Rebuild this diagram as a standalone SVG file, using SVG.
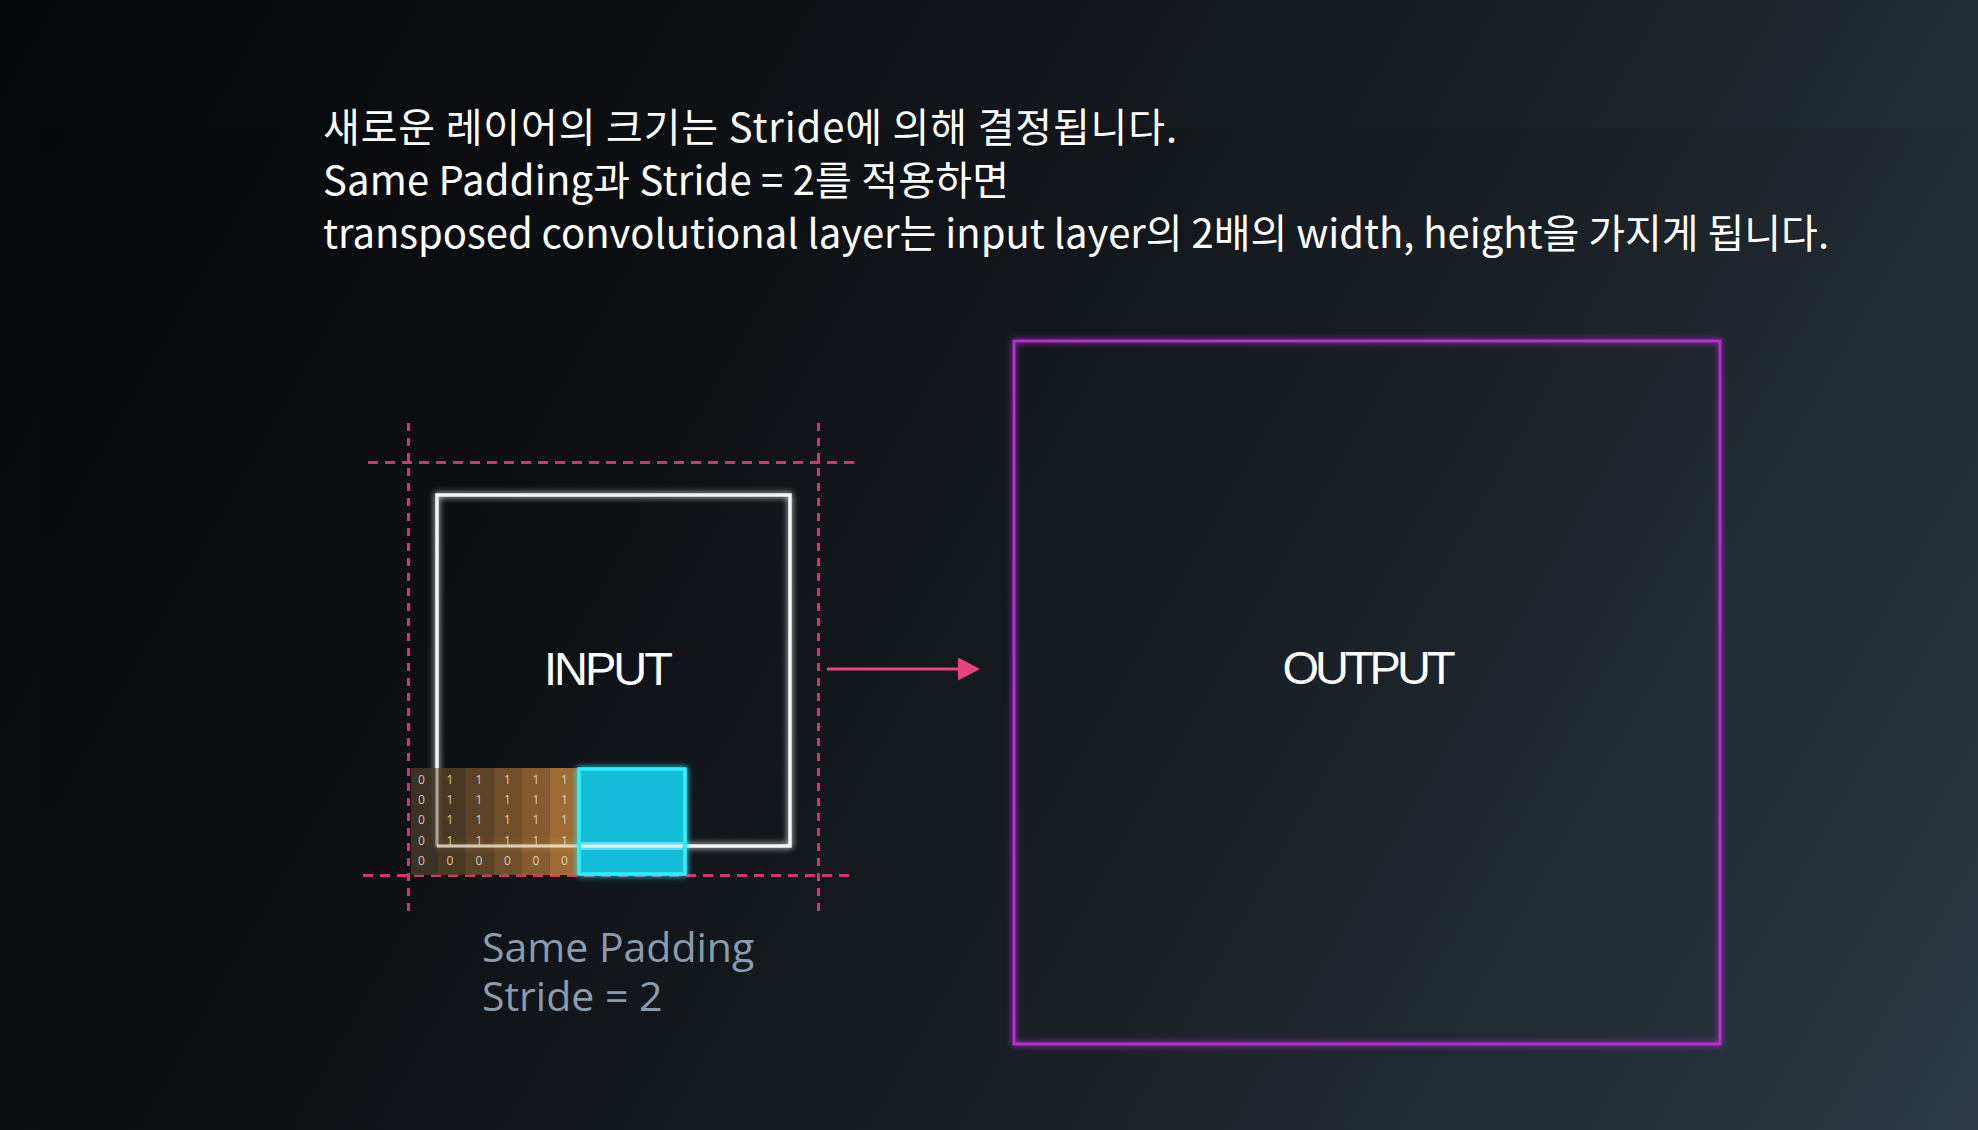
<svg xmlns="http://www.w3.org/2000/svg" width="1978" height="1130" viewBox="0 0 1978 1130">
<defs>
<linearGradient id="bg" x1="0" y1="0" x2="1978" y2="1130" gradientUnits="userSpaceOnUse">
<stop offset="0" stop-color="#060708"/>
<stop offset="0.35" stop-color="#0f1216"/>
<stop offset="0.65" stop-color="#1c2329"/>
<stop offset="1" stop-color="#303c47"/>
</linearGradient>
<filter id="glow" x="-20%" y="-20%" width="140%" height="140%">
<feGaussianBlur in="SourceGraphic" stdDeviation="3" result="b"/>
<feMerge><feMergeNode in="b"/><feMergeNode in="SourceGraphic"/></feMerge>
</filter>
<marker id="arrow" markerUnits="userSpaceOnUse" markerWidth="24" markerHeight="24" refX="0" refY="11.5" orient="auto">
<path d="M0,0 L22,11.5 L0,23 Z" fill="#e8437c"/>
</marker>
<style>
.title{font-family:"Noto Sans CJK KR","Noto Sans",sans-serif;font-size:40px;fill:#ffffff}
.dash{stroke:#d2356c;stroke-width:3;stroke-dasharray:10 7;fill:none}
.vdash{stroke:#d2356c;stroke-width:3;stroke-dasharray:8 7;fill:none}
.big{font-family:"Liberation Sans",Arial,sans-serif;font-size:47px;fill:#ffffff;text-anchor:middle}
.dig{font-family:"Open Sans","Noto Sans",sans-serif;font-size:12px;fill:#efe3cf;fill-opacity:0.85;text-anchor:middle}
.lbl{font-family:"Open Sans","Noto Sans",sans-serif;font-size:41px;fill:#8c9bab}
</style>
</defs>
<rect x="0" y="0" width="1978" height="1130" fill="url(#bg)"/>
<rect x="41" y="128" width="1937" height="1002" fill="#000000" fill-opacity="0.05"/>

<g id="title-text">
<text class="title" x="323" y="142" textLength="854" lengthAdjust="spacing">새로운 레이어의 크기는 Stride에 의해 결정됩니다.</text>
<text class="title" x="323" y="195" textLength="686" lengthAdjust="spacing">Same Padding과 Stride = 2를 적용하면</text>
<text class="title" x="323" y="248" textLength="1506" lengthAdjust="spacing">transposed convolutional layer는 input layer의 2배의 width, height을 가지게 됩니다.</text>
</g>

<g id="padding-guides">
<line class="dash" x1="368" y1="462.5" x2="860" y2="462.5"/>
<line class="dash" x1="363" y1="875.5" x2="855" y2="875.5"/>
<line class="vdash" x1="408.5" y1="423" x2="408.5" y2="911"/>
<line class="vdash" x1="818.5" y1="423" x2="818.5" y2="911"/>
</g>

<g id="node-input">
<rect x="437" y="495" width="353" height="351" fill="none" stroke="#f4f4f4" stroke-width="3.5" filter="url(#glow)"/>
<text class="big" x="607" y="685" letter-spacing="-3">INPUT</text>
</g>

<g id="padding-grid">
<rect x="411" y="768" width="27" height="107" fill="#45382a" fill-opacity="0.85"/>
<rect x="438" y="768" width="28" height="107" fill="#563f27" fill-opacity="0.85"/>
<rect x="466" y="768" width="28" height="107" fill="#6a4b2a" fill-opacity="0.85"/>
<rect x="494" y="768" width="28" height="107" fill="#80592e" fill-opacity="0.85"/>
<rect x="522" y="768" width="28" height="107" fill="#996834" fill-opacity="0.85"/>
<rect x="550" y="768" width="28" height="107" fill="#b67c3a" fill-opacity="0.85"/>
<g>
<text class="dig" x="421.5" y="784">0</text><text class="dig" x="450" y="784">1</text><text class="dig" x="479" y="784">1</text><text class="dig" x="507.5" y="784">1</text><text class="dig" x="536" y="784">1</text><text class="dig" x="564.5" y="784">1</text>
<text class="dig" x="421.5" y="804">0</text><text class="dig" x="450" y="804">1</text><text class="dig" x="479" y="804">1</text><text class="dig" x="507.5" y="804">1</text><text class="dig" x="536" y="804">1</text><text class="dig" x="564.5" y="804">1</text>
<text class="dig" x="421.5" y="824">0</text><text class="dig" x="450" y="824">1</text><text class="dig" x="479" y="824">1</text><text class="dig" x="507.5" y="824">1</text><text class="dig" x="536" y="824">1</text><text class="dig" x="564.5" y="824">1</text>
<text class="dig" x="421.5" y="845">0</text><text class="dig" x="450" y="845">1</text><text class="dig" x="479" y="845">1</text><text class="dig" x="507.5" y="845">1</text><text class="dig" x="536" y="845">1</text><text class="dig" x="564.5" y="845">1</text>
<text class="dig" x="421.5" y="865">0</text><text class="dig" x="450" y="865">0</text><text class="dig" x="479" y="865">0</text><text class="dig" x="507.5" y="865">0</text><text class="dig" x="536" y="865">0</text><text class="dig" x="564.5" y="865">0</text>
</g>
<line x1="437" y1="846" x2="578" y2="846" stroke="#f6ecd0" stroke-width="3" stroke-opacity="0.75"/>
<line x1="437" y1="768" x2="437" y2="846" stroke="#f6ecd0" stroke-width="3" stroke-opacity="0.5"/>
</g>

<g id="kernel">
<rect x="579" y="769" width="106" height="105" fill="#14bddb" stroke="#2cf2ff" stroke-width="3.5" filter="url(#glow)"/>
<rect x="581" y="842" width="102" height="8" fill="#7ff3ff" fill-opacity="0.6"/>
<rect x="581" y="844.5" width="102" height="3" fill="#f0ffff"/>
</g>

<g id="node-output">
<rect x="1014" y="341" width="706" height="703" fill="none" stroke="#b52ed0" stroke-width="3" filter="url(#glow)"/>
<text class="big" x="1367" y="684" letter-spacing="-4">OUTPUT</text>
</g>

<g id="connectors">
<line x1="827" y1="669" x2="958" y2="669" stroke="#e8437c" stroke-width="3" marker-end="url(#arrow)"/>
</g>

<g id="label">
<text class="lbl" x="482" y="962">Same Padding</text>
<text class="lbl" x="482" y="1011">Stride = 2</text>
</g>
</svg>
